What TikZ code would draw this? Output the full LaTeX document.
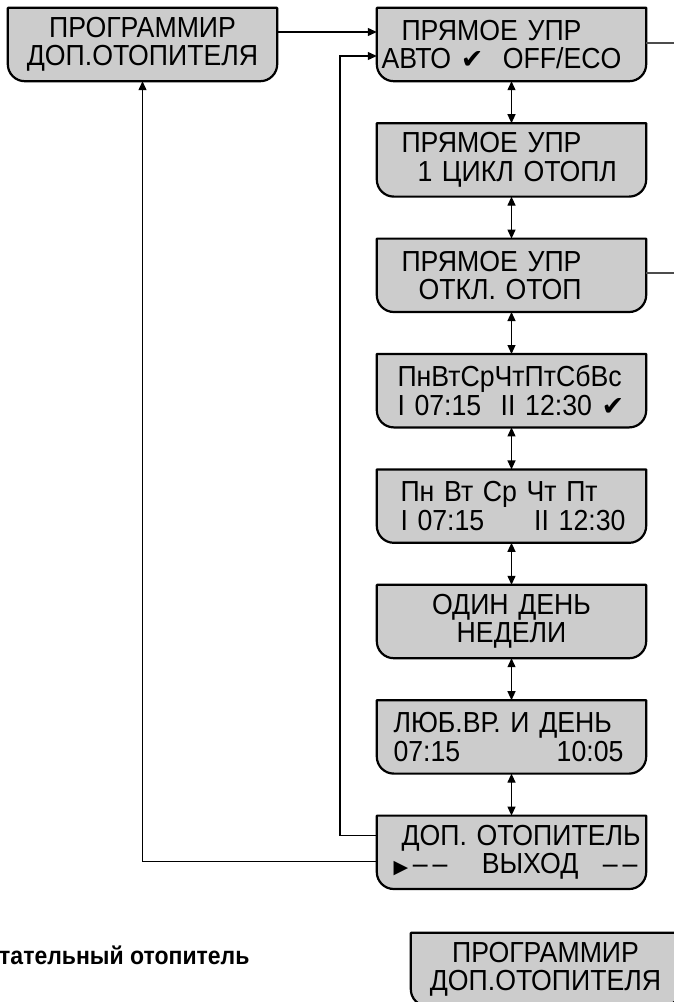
\documentclass[tikz,border=0pt]{standalone}
\usepackage{fontspec}
\setmainfont{Liberation Sans}[FakeStretch=0.92]
\newfontfamily\symfont{DejaVu Sans}
\usetikzlibrary{arrows.meta, positioning, backgrounds}
\definecolor{lcdgray}{RGB}{204,204,204}
\newcommand{\chk}{{\symfont\fontsize{27}{27}\selectfont ✔}}
\newcommand{\lcdfont}{\fontsize{29}{28.5}\selectfont}
\tikzset{
  % display boxes
  lcd/.style={rectangle, minimum width=269pt, minimum height=73pt, inner sep=0pt, text width=256pt, align=left, font=\lcdfont},
  lcdc/.style={lcd, align=center},
  frame/.style={draw=black, line width=2.2pt, fill=lcdgray, line join=round},
  % connectors
  link/.style={-{Triangle[length=9pt,width=8pt]}, line width=1.2pt},
  twoway/.style={{Triangle[length=9pt,width=8pt]}-{Triangle[length=9pt,width=8pt]}, line width=1.2pt},
  plain/.style={line width=1.2pt, draw=gray!60!black},
}
\begin{document}
\begin{tikzpicture}[x=1pt, y=1pt, node distance=42pt]
    \useasboundingbox (0,0) rectangle (674,-1002);
    \clip (0,0) rectangle (674,-1002);

    % Left menu entry
    \node[lcdc] (prog) at (142.5,-44.5) {ПРОГРАММИР\\ДОП.ОТОПИТЕЛЯ};

    % Menu column
    \node[lcd] (a1) at (511.5,-44.5) {\hspace*{18pt}ПРЯМОЕ УПР\\\hspace*{-2pt}АВТО \chk\ \ OFF/ECO};
    \node[lcd, below=of a1] (a2) {\hspace*{18pt}ПРЯМОЕ УПР\\\hspace*{34pt}1 ЦИКЛ ОТОПЛ};
    \node[lcd, below=of a2] (a3) {\hspace*{18pt}ПРЯМОЕ УПР\\\hspace*{35pt}ОТКЛ. ОТОП};
    \node[lcd, below=of a3] (a4) {\hspace*{14pt}ПнВтСрЧтПтСбВс\\\hspace*{14pt}I 07:15\ \ II 12:30 \chk};
    \node[lcd, below=of a4] (a5) {\hspace*{17pt}Пн Вт Ср Чт Пт\\\hspace*{17pt}I 07:15\hfill II 12:30\hspace*{14pt}\mbox{}};
    \node[lcdc, below=of a5] (a6) {ОДИН ДЕНЬ\\НЕДЕЛИ};
    \node[lcd, below=of a6] (a7) {\hspace*{10pt}ЛЮБ.ВР. И ДЕНЬ\\\hspace*{10pt}07:15\hfill 10:05\hspace*{16pt}\mbox{}};
    \node[lcd, below=of a7] (a8) {\hspace*{18pt}ДОП.~ОТОПИТЕЛЬ\\\hspace*{10pt}{\symfont\fontsize{19}{19}\selectfont ▶}\,–\,– \hfill ВЫХОД\hfill –\,–\hspace*{2pt}\mbox{}};

    % Next entry and caption
    \node[lcdc] (progb) at (545.5,-969.5) {ПРОГРАММИР\\ДОП.ОТОПИТЕЛЯ};
    \node[anchor=west, inner sep=0pt, font=\bfseries\fontsize{25}{27}\selectfont] (caption) at (-1,-955) {тательный отопитель};

    % Display frames
    \begin{scope}[on background layer]
      \foreach \n in {prog,a1,a2,a3,a4,a5,a6,a7,a8,progb}
        \draw[frame] (\n.north west) -- (\n.north east) -- ([yshift=17pt]\n.south east)
          arc[start angle=0, end angle=-90, radius=17pt] -- ([xshift=17pt]\n.south west)
          arc[start angle=-90, end angle=-180, radius=17pt] -- cycle;
    \end{scope}

    % Arrows
    \coordinate (bus) at (340,-450);
    \coordinate (off1) at (700,-43);
    \coordinate (off3) at (700,-273);
    \draw[link] ([yshift=12.5pt]prog.east) -- ([yshift=12.5pt]a1.west);
    \draw[link] ([yshift=16.5pt]a8.west) -| (bus) |- ([yshift=-11.5pt]a1.west);
    \draw[link] ([yshift=-9.5pt]a8.west) -| (prog.south);
    \foreach \u/\l in {a1/a2,a2/a3,a3/a4,a4/a5,a5/a6,a6/a7,a7/a8}
      \draw[twoway] (\u) -- (\l);
    \draw[plain] (a1.east |- off1) -- (off1);
    \draw[plain] (a3.east |- off3) -- (off3);
\end{tikzpicture}
\end{document}
